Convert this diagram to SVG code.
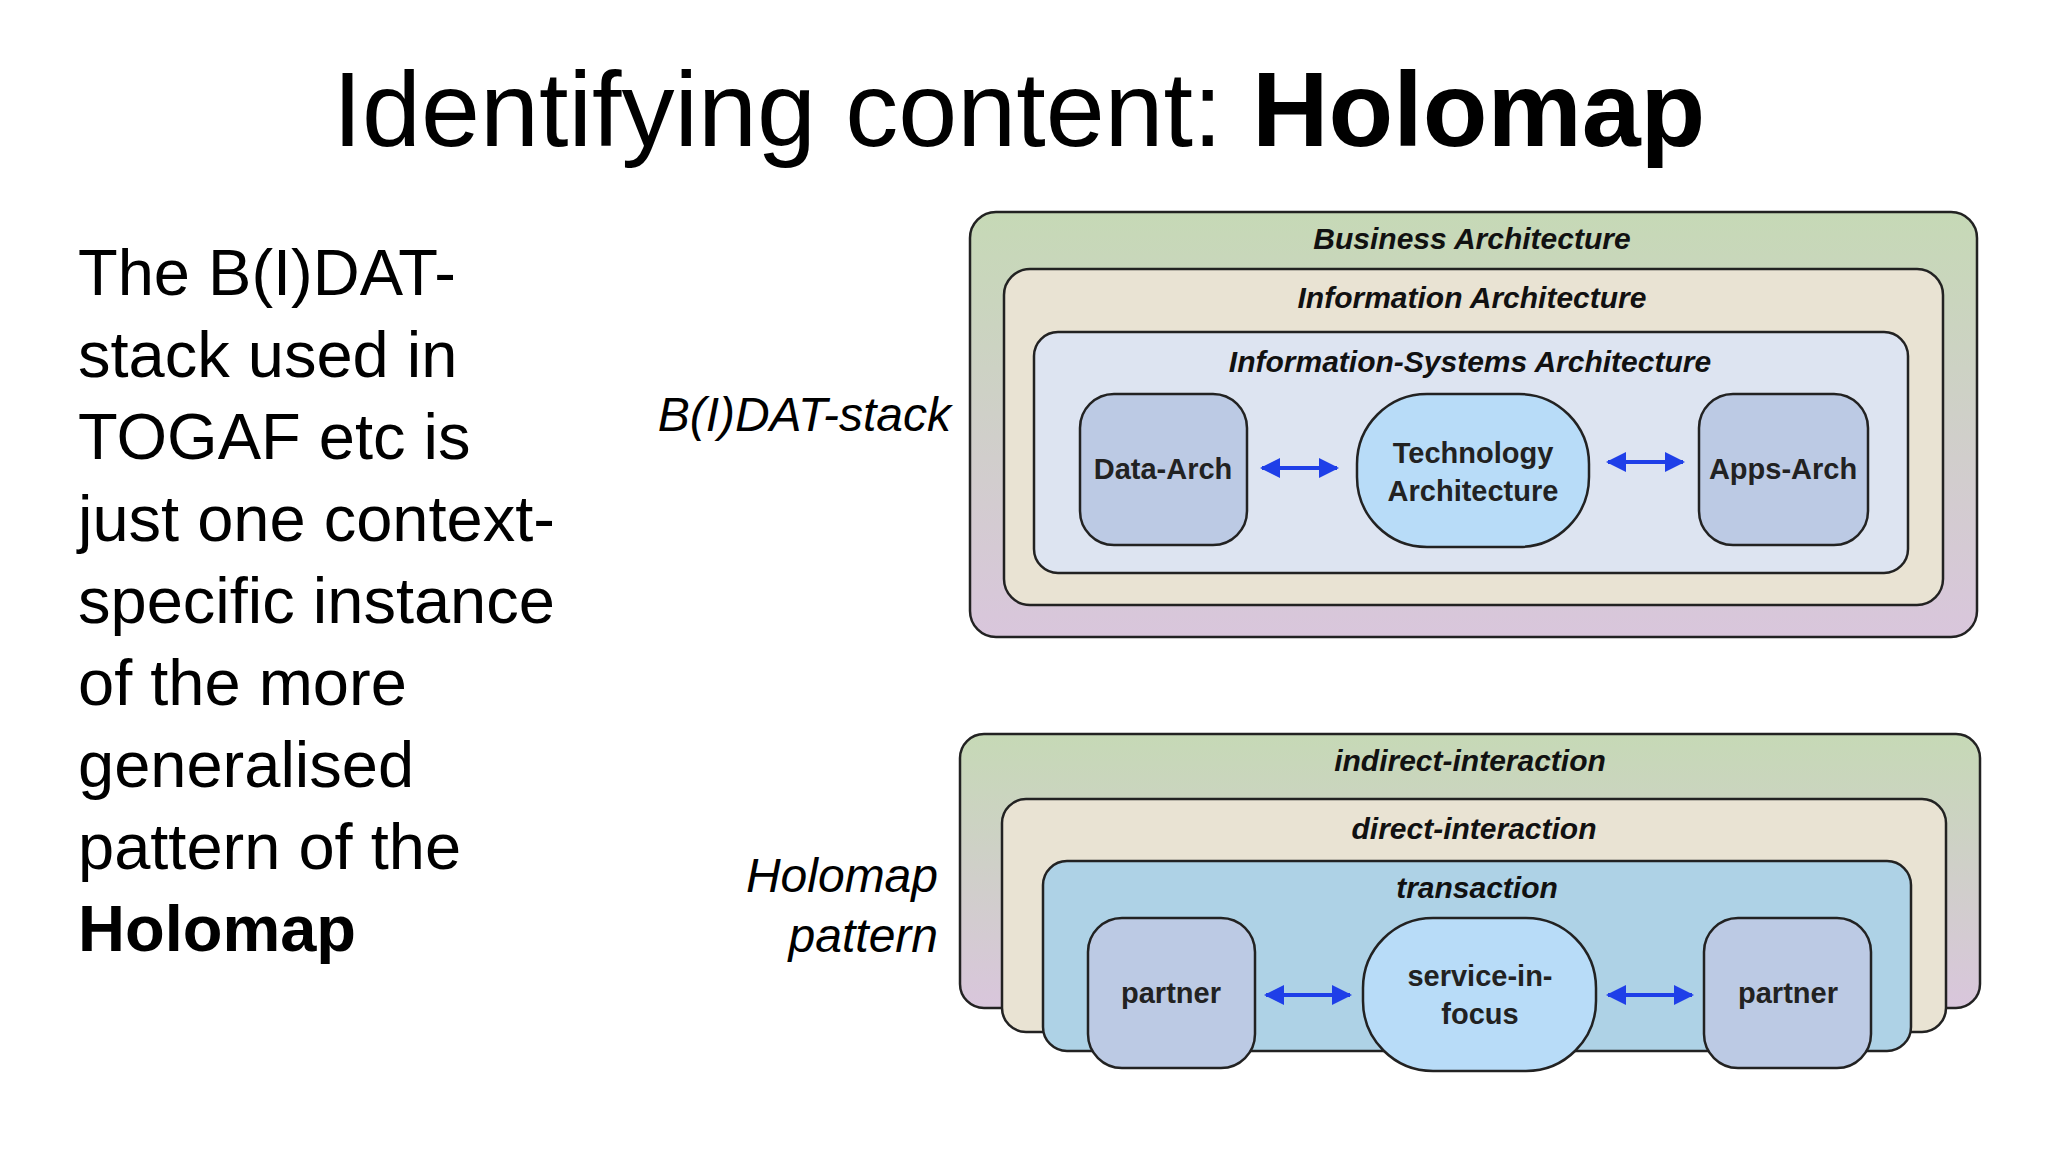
<svg xmlns="http://www.w3.org/2000/svg" width="2048" height="1152" viewBox="0 0 2048 1152">
<defs>
<linearGradient id="g1" x1="0" y1="0" x2="0" y2="1"><stop offset="0" stop-color="#c6d9b6"/><stop offset="1" stop-color="#d9c6dc"/></linearGradient>
<marker id="ah" viewBox="0 0 10 10" refX="9" refY="5" markerWidth="5" markerHeight="5" orient="auto-start-reverse"><path d="M0,0 L10,5 L0,10 z" fill="#1f3fe8"/></marker>
<style>
.bx{stroke:#222;stroke-width:2.5}
.lb{font-family:"Liberation Sans",Arial,sans-serif;font-weight:bold;font-style:italic;font-size:30px;fill:#111;text-anchor:middle}
.nd{font-family:"Liberation Sans",Arial,sans-serif;font-weight:bold;font-size:29px;fill:#222;text-anchor:middle}
.ar{stroke:#1f3fe8;stroke-width:4;fill:none;marker-start:url(#ah);marker-end:url(#ah)}
.tx{font-family:"Liberation Sans",Arial,sans-serif;font-size:65px;fill:#000}
.sl{font-family:"Liberation Sans",Arial,sans-serif;font-style:italic;font-size:48px;fill:#000;text-anchor:end}
</style>
</defs>
<rect width="2048" height="1152" fill="#fff"/>
<text x="1019" y="146" text-anchor="middle" font-family="Liberation Sans, Arial, sans-serif" font-size="106">Identifying content: <tspan font-weight="bold">Holomap</tspan></text>
<g class="tx">
<text x="78" y="295">The B(I)DAT-</text>
<text x="78" y="377">stack used in</text>
<text x="78" y="459">TOGAF etc is</text>
<text x="78" y="541">just one context-</text>
<text x="78" y="623">specific instance</text>
<text x="78" y="705">of the more</text>
<text x="78" y="787">generalised</text>
<text x="78" y="869">pattern of the</text>
<text x="78" y="951" font-weight="bold">Holomap</text>
</g>
<text class="sl" x="951" y="431">B(I)DAT-stack</text>
<text class="sl" x="938" y="892">Holomap</text>
<text class="sl" x="938" y="952">pattern</text>
<g id="business"><rect class="bx" x="970" y="212" width="1007" height="425" rx="26" fill="url(#g1)"/><text class="lb" x="1472" y="249">Business Architecture</text></g>
<g id="information"><rect class="bx" x="1004" y="269" width="939" height="336" rx="26" fill="#e9e3d3"/><text class="lb" x="1472" y="308">Information Architecture</text></g>
<g id="is"><rect class="bx" x="1034" y="332" width="874" height="241" rx="24" fill="#dde4f1"/><text class="lb" x="1470" y="372">Information-Systems Architecture</text></g>
<g id="data"><rect class="bx" x="1080" y="394" width="167" height="151" rx="34" fill="#bccae4"/><text class="nd" x="1163" y="479">Data-Arch</text></g>
<g id="tech"><rect class="bx" x="1357" y="394" width="232" height="153" rx="70" fill="#b8dcf8"/><text class="nd" x="1473" y="463">Technology</text><text class="nd" x="1473" y="501">Architecture</text></g>
<g id="apps"><rect class="bx" x="1699" y="394" width="169" height="151" rx="34" fill="#bccae4"/><text class="nd" x="1783" y="479">Apps-Arch</text></g>
<g id="indirect"><rect class="bx" x="960" y="734" width="1020" height="274" rx="24" fill="url(#g1)"/><text class="lb" x="1470" y="771">indirect-interaction</text></g>
<g id="direct"><rect class="bx" x="1002" y="799" width="944" height="233" rx="24" fill="#e9e3d3"/><text class="lb" x="1474" y="839">direct-interaction</text></g>
<g id="transaction"><rect class="bx" x="1043" y="861" width="868" height="190" rx="24" fill="#aed2e6"/><text class="lb" x="1477" y="898">transaction</text></g>
<g id="partner1"><rect class="bx" x="1088" y="918" width="167" height="150" rx="34" fill="#bccae4"/><text class="nd" x="1171" y="1003">partner</text></g>
<g id="service"><rect class="bx" x="1363" y="918" width="233" height="153" rx="70" fill="#b8dcf8"/><text class="nd" x="1480" y="986">service-in-</text><text class="nd" x="1480" y="1024">focus</text></g>
<g id="partner2"><rect class="bx" x="1704" y="918" width="167" height="150" rx="34" fill="#bccae4"/><text class="nd" x="1788" y="1003">partner</text></g>
<g id="connectors">
<line class="ar" x1="1262" y1="468" x2="1337" y2="468"/>
<line class="ar" x1="1608" y1="462" x2="1683" y2="462"/>
<line class="ar" x1="1266" y1="995" x2="1350" y2="995"/>
<line class="ar" x1="1608" y1="995" x2="1692" y2="995"/>
</g>
</svg>
